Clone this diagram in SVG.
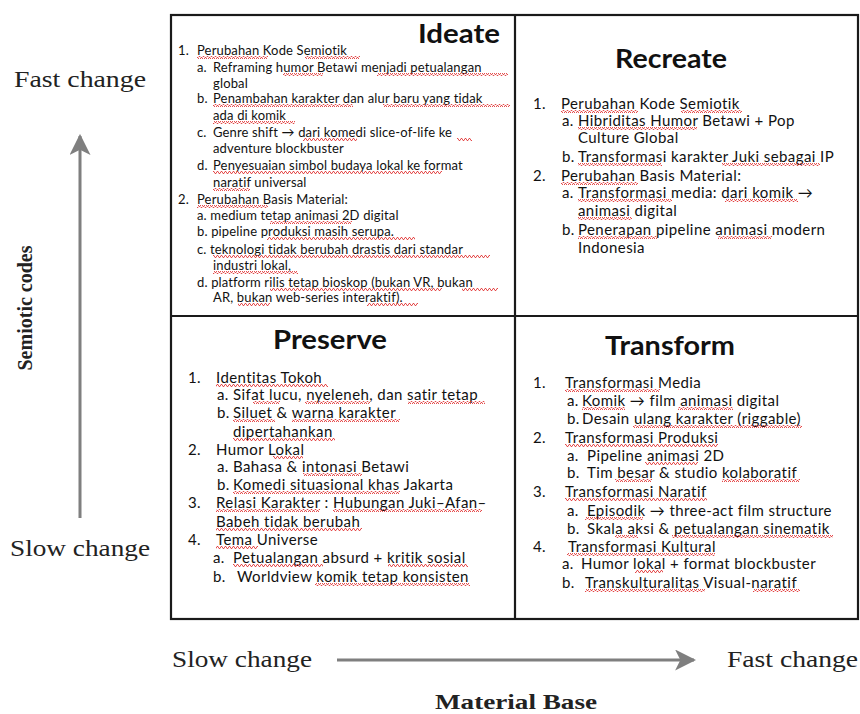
<svg xmlns="http://www.w3.org/2000/svg" width="860" height="714" viewBox="0 0 860 714">
  <defs>
    <!-- red wavy proofing underline -->
    <pattern id="wave" patternUnits="userSpaceOnUse" width="4" height="3">
      <polyline points="0,2.5 1,0.5 2,0.5 3,2.5 4,2.5" fill="none" stroke="#e23b3b" stroke-width="0.9"/>
    </pattern>
    <marker id="head" viewBox="0 0 10 10" refX="9" refY="5" markerWidth="7" markerHeight="7" markerUnits="strokeWidth" orient="auto">
      <path d="M0,0 L10,5 L0,10 L2.5,5 Z" fill="#7f7f7f"/>
    </marker>
  </defs>
  <style>
    .body { font-family: Lato, "Open Sans", sans-serif; font-size: 15px; letter-spacing: 0.42px; fill: #111; }
    .small { font-size: 13px; letter-spacing: 0.15px; }
    .title { font-family: Lato, "Open Sans", sans-serif; font-size: 26px; font-weight: bold; fill: #111; text-anchor: middle; }
    .axis { font-family: "Liberation Serif", serif; font-size: 23px; fill: #222; }
    .axisb { font-family: "Liberation Serif", serif; font-size: 21px; font-weight: bold; fill: #222; }
    .sq { fill: url(#wave); }
    .frame { fill: none; stroke: #1a1a1a; stroke-width: 2.2; }
    .arrow { stroke: #7f7f7f; stroke-width: 3; fill: none; }
  </style>
  <rect width="860" height="714" fill="#fff"/>

  <!-- quadrant frame -->
  <g id="frame">
    <rect class="frame" x="171" y="15" width="687" height="604"/>
    <line class="frame" x1="515" y1="15" x2="515" y2="619"/>
    <line class="frame" x1="171" y1="316" x2="858" y2="316"/>
  </g>

  <!-- Ideate: top left -->
  <g id="ideate">
    <text class="title" x="459" y="43" textLength="82" lengthAdjust="spacingAndGlyphs">Ideate</text>
    <g class="body small">
      <text x="178" y="55">1.<tspan x="197">Perubahan Kode Semiotik</tspan></text>
      <text x="197" y="72">a.<tspan x="213">Reframing humor Betawi menjadi petualangan</tspan></text>
      <text x="213" y="88">global</text>
      <text x="197" y="103">b.<tspan x="213">Penambahan karakter dan alur baru yang tidak</tspan></text>
      <text x="213" y="120">ada di komik</text>
      <text x="197" y="137">c.<tspan x="213">Genre shift → dari komedi slice-of-life ke</tspan></text>
      <text x="213" y="153">adventure blockbuster</text>
      <text x="197" y="170">d.<tspan x="213">Penyesuaian simbol budaya lokal ke format</tspan></text>
      <text x="213" y="187">naratif universal</text>
      <text x="178" y="204">2.<tspan x="197">Perubahan Basis Material:</tspan></text>
      <text x="197" y="220">a. medium tetap animasi 2D digital</text>
      <text x="197" y="236">b. pipeline produksi masih serupa.</text>
      <text x="197" y="254">c. teknologi tidak berubah drastis dari standar</text>
      <text x="213" y="270">industri lokal,</text>
      <text x="197" y="287">d. platform rilis tetap bioskop (bukan VR, bukan</text>
      <text x="213" y="302">AR, bukan web-series interaktif).</text>
    </g>
    <g class="sq">
      <rect x="197" y="56" width="71" height="3"/><rect x="305" y="56" width="55" height="3"/>
      <rect x="283" y="73" width="40" height="3"/><rect x="377" y="73" width="131" height="3"/>
      <rect x="213" y="104" width="140" height="3"/><rect x="383" y="104" width="127" height="3"/>
      <rect x="213" y="121" width="82" height="3"/>
      <rect x="303" y="138" width="54" height="3"/><rect x="457" y="138" width="15" height="3"/>
      <rect x="213" y="171" width="229" height="3"/>
      <rect x="213" y="188" width="37" height="3"/>
      <rect x="197" y="205" width="71" height="3"/>
      <rect x="270" y="221" width="82" height="3"/>
      <rect x="267" y="237" width="148" height="3"/>
      <rect x="213" y="255" width="277" height="3"/>
      <rect x="213" y="271" width="85" height="3"/>
      <rect x="270" y="288" width="172" height="3"/><rect x="462" y="288" width="36" height="3"/>
      <rect x="238" y="303" width="32" height="3"/><rect x="367" y="303" width="51" height="3"/>
    </g>
  </g>

  <!-- Recreate: top right -->
  <g id="recreate">
    <text class="title" x="671" y="68" textLength="112" lengthAdjust="spacingAndGlyphs">Recreate</text>
    <g class="body">
      <text x="533" y="109">1.<tspan x="561">Perubahan Kode Semiotik</tspan></text>
      <text x="562" y="126">a.<tspan x="578">Hibriditas Humor Betawi + Pop</tspan></text>
      <text x="578" y="143">Culture Global</text>
      <text x="562" y="162">b.<tspan x="578">Transformasi karakter Juki sebagai IP</tspan></text>
      <text x="533" y="181">2.<tspan x="561">Perubahan Basis Material:</tspan></text>
      <text x="562" y="198">a.<tspan x="578">Transformasi media: dari komik →</tspan></text>
      <text x="578" y="216">animasi digital</text>
      <text x="562" y="235">b.<tspan x="578">Penerapan pipeline animasi modern</tspan></text>
      <text x="578" y="253">Indonesia</text>
    </g>
    <g class="sq">
      <rect x="561" y="110" width="77" height="3"/><rect x="681" y="110" width="61" height="3"/>
      <rect x="578" y="127" width="119" height="3"/>
      <rect x="578" y="163" width="84" height="3"/><rect x="722" y="163" width="98" height="3"/>
      <rect x="561" y="182" width="77" height="3"/>
      <rect x="578" y="199" width="94" height="3"/><rect x="725" y="199" width="73" height="3"/>
      <rect x="578" y="217" width="54" height="3"/>
      <rect x="578" y="236" width="79" height="3"/><rect x="718" y="236" width="54" height="3"/>
    </g>
  </g>

  <!-- Preserve: bottom left -->
  <g id="preserve">
    <text class="title" x="330" y="349" textLength="114" lengthAdjust="spacingAndGlyphs">Preserve</text>
    <g class="body">
      <text x="188" y="383">1.<tspan x="216">Identitas Tokoh</tspan></text>
      <text x="217" y="400">a.<tspan x="233">Sifat lucu, nyeleneh, dan satir tetap</tspan></text>
      <text x="217" y="418">b.<tspan x="233">Siluet &amp; warna karakter</tspan></text>
      <text x="233" y="437">dipertahankan</text>
      <text x="188" y="455">2.<tspan x="216">Humor Lokal</tspan></text>
      <text x="217" y="472">a.<tspan x="233">Bahasa &amp; intonasi Betawi</tspan></text>
      <text x="217" y="490">b.<tspan x="233">Komedi situasional khas Jakarta</tspan></text>
      <text x="188" y="508">3.<tspan x="216">Relasi Karakter : Hubungan Juki–Afan–</tspan></text>
      <text x="216" y="527">Babeh tidak berubah</text>
      <text x="188" y="545">4.<tspan x="216">Tema Universe</tspan></text>
      <text x="213" y="563">a.<tspan x="233">Petualangan absurd + kritik sosial</tspan></text>
      <text x="213" y="582">b.<tspan x="237">Worldview komik tetap konsisten</tspan></text>
    </g>
    <g class="sq">
      <rect x="216" y="384" width="112" height="3"/>
      <rect x="253" y="401" width="27" height="3"/><rect x="305" y="401" width="65" height="3"/><rect x="408" y="401" width="77" height="3"/>
      <rect x="233" y="419" width="42" height="3"/><rect x="292" y="419" width="108" height="3"/>
      <rect x="233" y="438" width="102" height="3"/>
      <rect x="273" y="456" width="30" height="3"/>
      <rect x="303" y="473" width="59" height="3"/>
      <rect x="233" y="491" width="167" height="3"/>
      <rect x="216" y="509" width="104" height="3"/><rect x="333" y="509" width="149" height="3"/>
      <rect x="216" y="528" width="146" height="3"/>
      <rect x="216" y="546" width="42" height="3"/>
      <rect x="233" y="564" width="90" height="3"/><rect x="388" y="564" width="80" height="3"/>
      <rect x="315" y="583" width="155" height="3"/>
    </g>
  </g>

  <!-- Transform: bottom right -->
  <g id="transform">
    <text class="title" x="670" y="355" textLength="130" lengthAdjust="spacingAndGlyphs">Transform</text>
    <g class="body">
      <text x="533" y="388">1.<tspan x="565">Transformasi Media</tspan></text>
      <text x="567" y="406">a.<tspan x="582">Komik → film animasi digital</tspan></text>
      <text x="567" y="424">b.<tspan x="582">Desain ulang karakter (riggable)</tspan></text>
      <text x="533" y="443">2.<tspan x="565">Transformasi Produksi</tspan></text>
      <text x="567" y="461">a.<tspan x="587">Pipeline animasi 2D</tspan></text>
      <text x="567" y="478">b.<tspan x="587">Tim besar &amp; studio kolaboratif</tspan></text>
      <text x="533" y="497">3.<tspan x="565">Transformasi Naratif</tspan></text>
      <text x="567" y="516">a.<tspan x="587">Episodik → three-act film structure</tspan></text>
      <text x="567" y="534">b.<tspan x="587">Skala aksi &amp; petualangan sinematik</tspan></text>
      <text x="533" y="552">4.<tspan x="568">Transformasi Kultural</tspan></text>
      <text x="562" y="569">a.<tspan x="581">Humor lokal + format blockbuster</tspan></text>
      <text x="562" y="588">b.<tspan x="585">Transkulturalitas Visual-naratif</tspan></text>
    </g>
    <g class="sq">
      <rect x="565" y="389" width="95" height="3"/>
      <rect x="582" y="407" width="43" height="3"/><rect x="678" y="407" width="55" height="3"/>
      <rect x="633" y="425" width="169" height="3"/>
      <rect x="565" y="444" width="153" height="3"/>
      <rect x="645" y="462" width="53" height="3"/>
      <rect x="615" y="479" width="37" height="3"/><rect x="722" y="479" width="78" height="3"/>
      <rect x="565" y="498" width="142" height="3"/>
      <rect x="585" y="517" width="58" height="3"/>
      <rect x="615" y="535" width="23" height="3"/><rect x="672" y="535" width="161" height="3"/>
      <rect x="567" y="553" width="148" height="3"/>
      <rect x="635" y="570" width="28" height="3"/>
      <rect x="585" y="589" width="120" height="3"/><rect x="753" y="589" width="47" height="3"/>
    </g>
  </g>

  <!-- axes -->
  <g id="axes">
    <line class="arrow" x1="80" y1="518" x2="80" y2="136" marker-end="url(#head)"/>
    <line class="arrow" x1="337" y1="660" x2="694" y2="660" marker-end="url(#head)"/>
  </g>
  <g id="axis-labels">
    <text class="axis" x="14" y="87" textLength="132" lengthAdjust="spacingAndGlyphs">Fast change</text>
    <text class="axis" x="10" y="556" textLength="140" lengthAdjust="spacingAndGlyphs">Slow change</text>
    <text class="axisb" transform="translate(32,308) rotate(-90)" text-anchor="middle" textLength="125" lengthAdjust="spacingAndGlyphs">Semiotic codes</text>
    <text class="axis" x="172" y="667" textLength="140" lengthAdjust="spacingAndGlyphs">Slow change</text>
    <text class="axis" x="727" y="667" textLength="131" lengthAdjust="spacingAndGlyphs">Fast change</text>
    <text class="axisb" x="435" y="709" textLength="162" lengthAdjust="spacingAndGlyphs">Material Base</text>
  </g>
</svg>
